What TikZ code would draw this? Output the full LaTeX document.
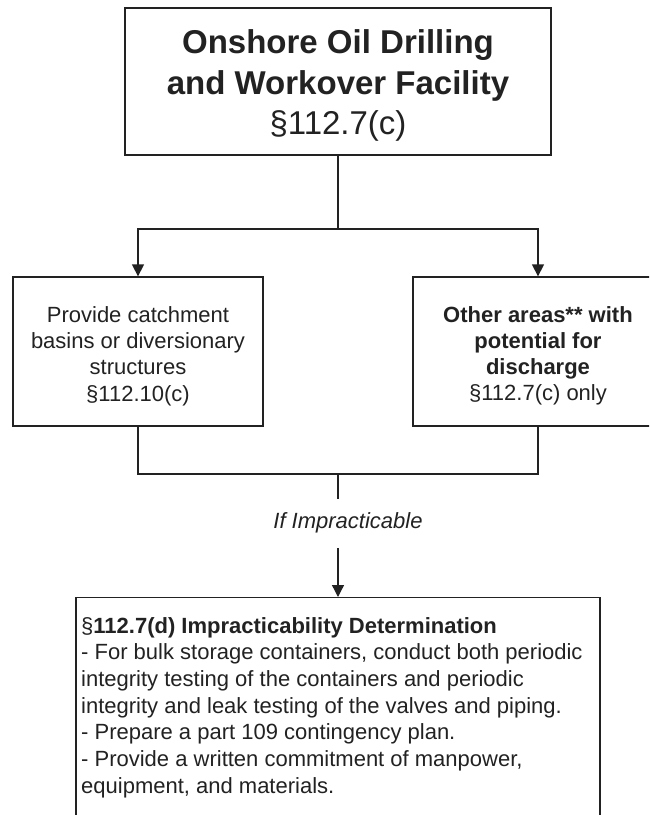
\documentclass[tikz,border=0pt]{standalone}
\usepackage{fontspec}
\setmainfont{Liberation Sans}
\usetikzlibrary{arrows.meta}
\definecolor{ink}{HTML}{222222}
\begin{document}
\begin{tikzpicture}[x=1pt,y=-1pt,
  box/.style={draw=ink, line width=1.3pt, rectangle, inner sep=0pt},
  boxtext/.style={inner sep=0pt, align=center, text=ink},
  conn/.style={draw=ink, line width=1.3pt},
  arr/.style={conn, -{Triangle[length=12pt,width=12pt]}},
  body/.style={font=\fontsize{22}{26.2}\selectfont},
  titlef/.style={font=\fontsize{33}{40.5}\selectfont}]
\useasboundingbox (0,0) rectangle (649,815);
\fill[white] (0,0) rectangle (649,815);
\clip (0,0) rectangle (649,815);
% boxes
\node[box,minimum width=426pt,minimum height=147pt] (top) at (338,81.5) {};
\node[box,minimum width=250pt,minimum height=149pt] (left) at (138,351.5) {};
\node[box,minimum width=250pt,minimum height=149pt] (right) at (538,351.5) {};
\node[box,minimum width=524pt,minimum height=260pt,anchor=north] (det) at (338,597) {};
% texts
\node[boxtext,titlef] (toptext) at ([yshift=-4pt]top.center)
  {\textbf{Onshore Oil Drilling}\\\textbf{and Workover Facility}\\§112.7(c)};
\node[boxtext,body] (lefttext) at ([yshift=-4.5pt]left.center)
  {Provide catchment\\basins or diversionary\\structures\\§112.10(c)};
\node[boxtext,body] (righttext) at ([yshift=-4.5pt]right.center)
  {\textbf{Other areas** with}\\\textbf{potential for}\\\textbf{discharge}\\§112.7(c) only};
\node[align=left,anchor=north west,inner sep=0pt,text=ink,font=\fontsize{22}{26.7}\selectfont] (dettext) at (81,617)
  {§\textbf{112.7(d) Impracticability Determination}\\
   - For bulk storage containers, conduct both periodic\\
   integrity testing of the containers and periodic\\
   integrity and leak testing of the valves and piping.\\
   - Prepare a part 109 contingency plan.\\
   - Provide a written commitment of manpower,\\
   equipment, and materials.};
\node[text=ink,inner sep=0pt,font=\fontsize{22}{26.4}\selectfont\itshape] (ifimp) at (348,523) {If Impracticable};
% connectors
\coordinate (j1) at (338,229);
\draw[conn] (top.south) -- (j1);
\draw[arr] (j1) -| (left.north);
\draw[arr] (j1) -| (right.north);
\coordinate (j2) at (338,474);
\draw[conn] (left.south) |- (j2);
\draw[conn] (right.south) |- (j2);
\coordinate (c1) at (338,499);
\draw[conn] (j2) -- (c1);
\coordinate (c2) at (338,548);
\draw[arr] (c2) -- (det.north);
\end{tikzpicture}
\end{document}
